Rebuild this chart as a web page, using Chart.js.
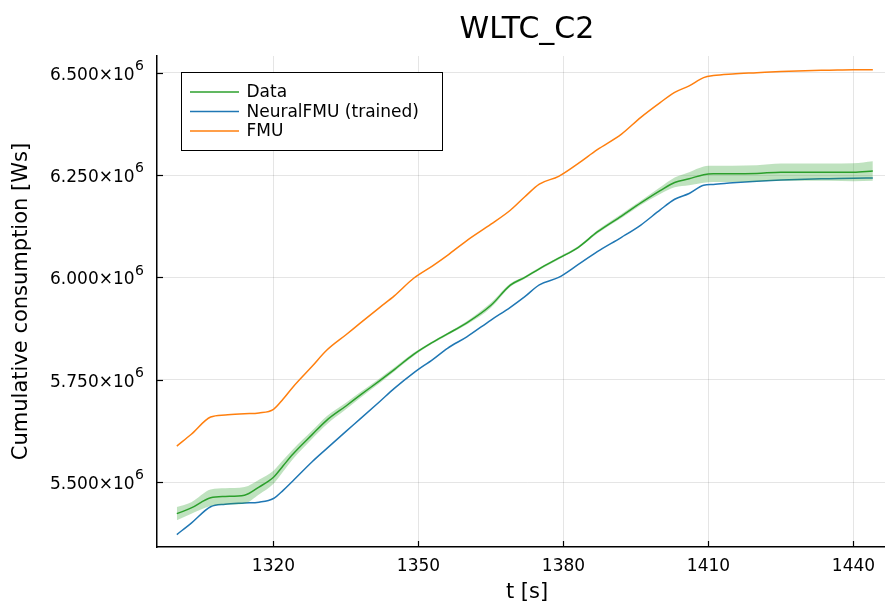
<!DOCTYPE html>
<html>
<head>
<meta charset="utf-8">
<script src="https://cdn.jsdelivr.net/npm/chart.js@4.4.1/dist/chart.umd.min.js"></script>
<style>
  html, body { margin: 0; padding: 0; background: #fff; overflow: hidden; }
  #chart { display: block; }
</style>
</head>
<body>
<canvas id="chart" width="897" height="605"></canvas>
<script>
// time [s]
const time = [1300, 1303, 1307, 1310, 1314, 1317, 1320, 1322, 1324, 1328, 1331, 1335, 1338, 1342, 1345,
    1349, 1353, 1356, 1360, 1365, 1369, 1372, 1375, 1379, 1383, 1387, 1392, 1396, 1400, 1403,
    1406, 1409, 1411, 1415, 1420, 1425, 1430, 1435, 1440, 1444];

// cumulative consumption, in 10^6 Ws
const dataValues = [5.423, 5.437, 5.462, 5.465, 5.468, 5.488, 5.512, 5.540, 5.568, 5.616, 5.651, 5.686, 5.713, 5.748, 5.775,
    5.812, 5.842, 5.862, 5.889, 5.932, 5.981, 6.000, 6.021, 6.047, 6.073, 6.111, 6.150, 6.182, 6.212, 6.232,
    6.241, 6.251, 6.253, 6.253, 6.254, 6.257, 6.257, 6.257, 6.257, 6.260];

// half width of the shaded band around Data
const dataSpread = [0.016, 0.014, 0.020, 0.020, 0.020, 0.018, 0.016, 0.014, 0.012, 0.010, 0.010, 0.008, 0.007, 0.006, 0.005,
    0.004, 0.003, 0.003, 0.004, 0.006, 0.004, 0.003, 0.003, 0.003, 0.003, 0.004, 0.005, 0.005, 0.008, 0.012,
    0.016, 0.020, 0.020, 0.020, 0.020, 0.021, 0.021, 0.021, 0.022, 0.024];

const neuralValues = [5.372, 5.400, 5.440, 5.446, 5.449, 5.451, 5.460, 5.480, 5.503, 5.550, 5.582, 5.624, 5.655, 5.697, 5.729,
    5.767, 5.800, 5.827, 5.855, 5.896, 5.927, 5.953, 5.982, 6.000, 6.031, 6.063, 6.098, 6.128, 6.165, 6.191,
    6.205, 6.225, 6.227, 6.231, 6.235, 6.238, 6.240, 6.241, 6.242, 6.243];

const fmuValues = [5.588, 5.617, 5.659, 5.664, 5.667, 5.669, 5.678, 5.703, 5.732, 5.783, 5.822, 5.860, 5.889, 5.927, 5.955,
    5.998, 6.029, 6.054, 6.090, 6.130, 6.164, 6.197, 6.228, 6.247, 6.278, 6.312, 6.350, 6.391, 6.427, 6.452,
    6.468, 6.488, 6.493, 6.497, 6.500, 6.503, 6.505, 6.506, 6.507, 6.507];

const xTicks = [1320, 1350, 1380, 1410, 1440];
const yTicks = [5.5, 5.75, 6.0, 6.25, 6.5];

const seriesLabels = ['Data', 'NeuralFMU (trained)', 'FMU'];
const seriesColors = ['#2ca02c', '#1f77b4', '#ff7f0e'];

const FONT = "'DejaVu Sans', sans-serif";

function pts(values) {
    return time.map((t, i) => ({ x: t, y: values[i] }));
}

const bandLow = dataValues.map((v, i) => v - dataSpread[i]);
const bandHigh = dataValues.map((v, i) => v + dataSpread[i]);

// ticks pointing into the plot, y labels with exponent, titles, legend box
const decorPlugin = {
    id: 'decor',
    afterDraw(chart) {
        const ctx = chart.ctx;
        const area = chart.chartArea;
        const xs = chart.scales.x;
        const ys = chart.scales.y;

        ctx.save();
        ctx.strokeStyle = '#000';
        ctx.lineWidth = 1.2;
        xTicks.forEach(v => {
            const px = Math.round(xs.getPixelForValue(v)) + 0.5;
            ctx.beginPath();
            ctx.moveTo(px, area.bottom);
            ctx.lineTo(px, area.bottom - 6);
            ctx.stroke();
        });
        yTicks.forEach(v => {
            const py = Math.round(ys.getPixelForValue(v)) + 0.5;
            ctx.beginPath();
            ctx.moveTo(area.left, py);
            ctx.lineTo(area.left + 6, py);
            ctx.stroke();
        });

        // y tick labels: mantissa ×10 with raised exponent
        ctx.fillStyle = '#000';
        ctx.textBaseline = 'middle';
        yTicks.forEach(v => {
            const py = ys.getPixelForValue(v);
            ctx.font = '14px ' + FONT;
            ctx.textAlign = 'right';
            ctx.fillText('6', area.left - 13, py - 6.5);
            const supW = ctx.measureText('6').width;
            ctx.font = '17px ' + FONT;
            ctx.fillText(v.toFixed(3) + '×10', area.left - 13 - supW - 0.5, py + 2.5);
        });

        // title
        ctx.font = '30px ' + FONT;
        ctx.textAlign = 'center';
        ctx.textBaseline = 'alphabetic';
        ctx.fillText('WLTC_C2', (area.left + area.right) / 2, 38);

        // axis titles
        ctx.font = '21px ' + FONT;
        ctx.textBaseline = 'middle';
        ctx.fillText('t [s]', (area.left + area.right) / 2, 593);
        ctx.save();
        ctx.translate(22, (area.top + area.bottom) / 2);
        ctx.rotate(-Math.PI / 2);
        ctx.fillText('Cumulative consumption [Ws]', 0, 0);
        ctx.restore();

        // legend
        const bx = area.left + 24.5, by = area.top + 16.5;
        ctx.fillStyle = '#fff';
        ctx.fillRect(bx, by, 261, 78);
        ctx.strokeStyle = '#000';
        ctx.lineWidth = 1;
        ctx.strokeRect(bx, by, 261, 78);
        ctx.font = '17px ' + FONT;
        ctx.textAlign = 'left';
        seriesLabels.forEach((label, i) => {
            const ly = by + 19.5 + i * 19.5;
            ctx.strokeStyle = seriesColors[i];
            ctx.lineWidth = 1.5;
            ctx.beginPath();
            ctx.moveTo(bx + 8.5, ly);
            ctx.lineTo(bx + 57.5, ly);
            ctx.stroke();
            ctx.fillStyle = '#000';
            ctx.fillText(label, bx + 65, ly + 1);
        });
        ctx.restore();
    }
};

new Chart(document.getElementById('chart'), {
    type: 'line',
    data: {
        datasets: [
            {
                label: 'band-low',
                data: pts(bandLow),
                borderWidth: 0,
                pointRadius: 0,
                fill: false
            },
            {
                label: 'band-high',
                data: pts(bandHigh),
                borderWidth: 0,
                pointRadius: 0,
                fill: '-1',
                backgroundColor: 'rgba(44, 160, 44, 0.3)'
            },
            {
                label: seriesLabels[0],
                data: pts(dataValues),
                borderColor: seriesColors[0],
                borderWidth: 1.5,
                pointRadius: 0,
                fill: false
            },
            {
                label: seriesLabels[1],
                data: pts(neuralValues),
                borderColor: seriesColors[1],
                borderWidth: 1.5,
                pointRadius: 0,
                fill: false
            },
            {
                label: seriesLabels[2],
                data: pts(fmuValues),
                borderColor: seriesColors[2],
                borderWidth: 1.5,
                pointRadius: 0,
                fill: false
            }
        ]
    },
    options: {
        responsive: false,
        animation: false,
        cubicInterpolationMode: 'monotone',
        layout: { padding: { top: 56, left: 0, right: 0, bottom: 0 } },
        plugins: {
            legend: { display: false },
            title: { display: false },
            tooltip: { enabled: false }
        },
        scales: {
            x: {
                type: 'linear',
                min: 1295.9,
                max: 1449.0,
                afterBuildTicks: scale => { scale.ticks = xTicks.map(v => ({ value: v })); },
                afterFit: scale => { scale.height = 58; },
                grid: { color: 'rgba(0, 0, 0, 0.1)', drawTicks: false },
                border: { color: '#000', width: 1.5 },
                ticks: {
                    color: '#000',
                    padding: 9,
                    maxRotation: 0,
                    font: { family: FONT, size: 17 },
                    callback: v => String(v)
                }
            },
            y: {
                type: 'linear',
                min: 5.3416,
                max: 6.5408,
                afterBuildTicks: scale => { scale.ticks = yTicks.map(v => ({ value: v })); },
                afterFit: scale => { scale.width = 157; },
                grid: { color: 'rgba(0, 0, 0, 0.1)', drawTicks: false },
                border: { color: '#000', width: 1.5 },
                ticks: { display: false }
            }
        }
    },
    plugins: [decorPlugin]
});
</script>
</body>
</html>
